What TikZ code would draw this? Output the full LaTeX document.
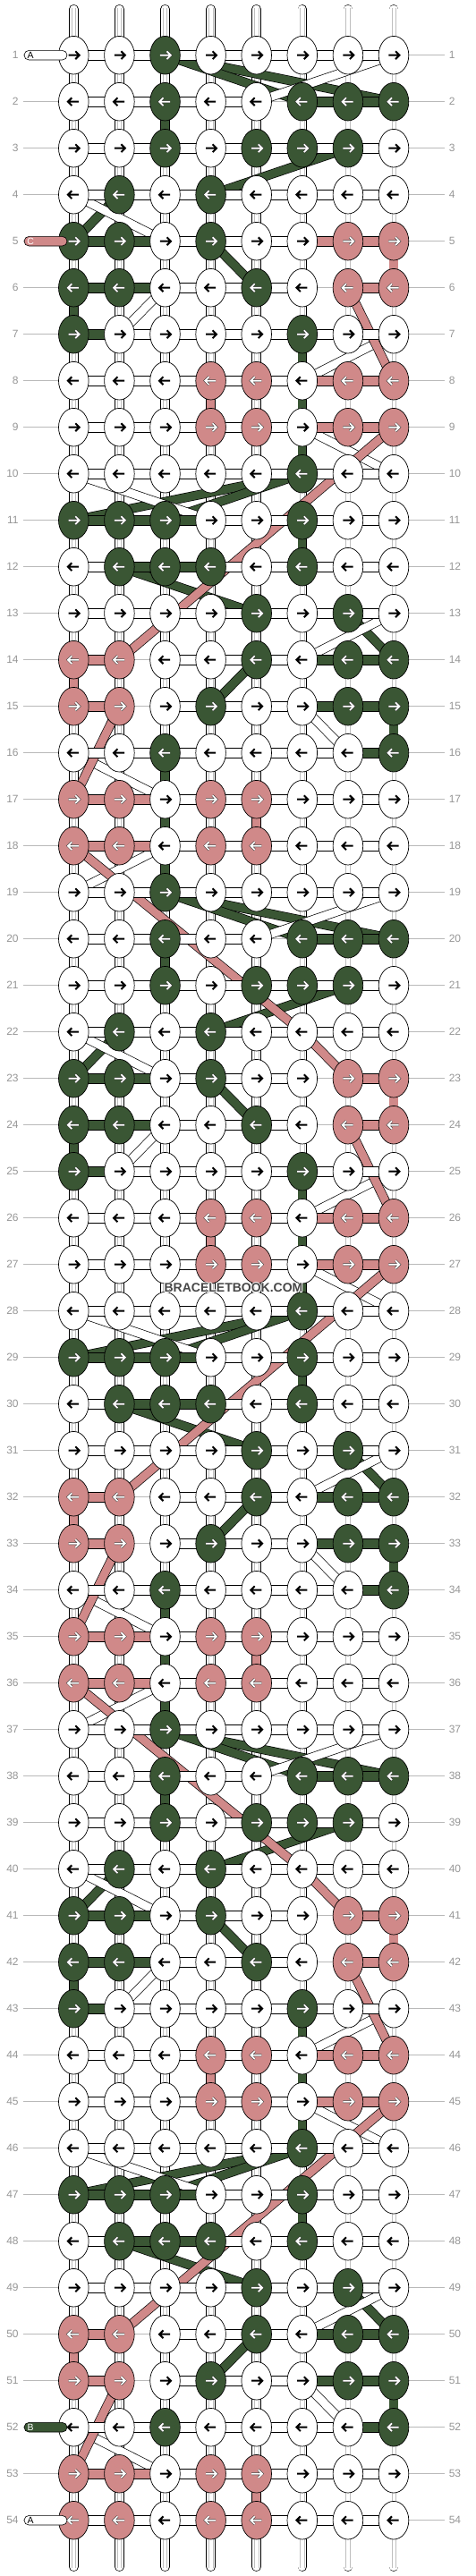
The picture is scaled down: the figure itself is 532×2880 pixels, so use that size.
\documentclass[tikz,border=0pt]{standalone}
\usepackage{fontspec}
\setmainfont{Liberation Sans}
\definecolor{cG}{RGB}{58,86,52}
\definecolor{cP}{RGB}{208,137,137}
\definecolor{guide}{RGB}{185,185,185}
\definecolor{labgray}{RGB}{150,150,150}
\definecolor{innergray}{RGB}{190,190,190}
\tikzset{
  kW/.style={fill=white}, kG/.style={fill=cG}, kP/.style={fill=cP},
  aW/.style={draw=black, line width=2pt},
  aG/.style={draw=white, line width=1.7pt, preaction={draw=black!80, line width=2.7pt}},
  aP/.style={aG},
  hw/.style={fill=white}, hg/.style={fill=cG}, hp/.style={fill=cP}, hn/.style={draw=none,fill=none},
  lab/.style={text=labgray, inner sep=0pt, font=\fontsize{12}{12}\selectfont},
  baseinner/.style={innergray, line width=0.6pt},
  wm/.style={font=\bfseries\fontsize{14}{14}\selectfont, inner sep=0pt},
}
\def\KN{%
1/{W,W,G,W,W,W,W,W}/{w,w,w,w,w,w,w},
2/{W,W,G,W,W,G,G,G}/{w,w,w,w,n,g,g},
3/{W,W,G,W,G,G,G,W}/{w,w,w,w,w,w,w},
4/{W,G,W,G,W,W,W,W}/{w,w,w,w,w,w,w},
5/{G,G,W,G,W,W,P,P}/{g,g,w,w,w,n,p},
6/{G,G,W,W,G,W,P,P}/{g,g,w,w,w,n,p},
7/{G,W,W,W,W,G,W,W}/{g,w,w,w,w,w,w},
8/{W,W,W,P,P,W,P,P}/{w,w,w,w,w,p,p},
9/{W,W,W,P,P,W,P,P}/{w,w,w,w,w,p,p},
10/{W,W,W,W,W,G,W,W}/{w,w,w,w,w,w,w},
11/{G,G,G,W,W,G,W,W}/{g,g,g,w,w,w,w},
12/{W,G,G,G,W,G,W,W}/{w,g,g,w,w,w,w},
13/{W,W,W,W,G,W,G,W}/{w,w,w,w,w,w,w},
14/{P,P,W,W,G,W,G,G}/{p,n,w,w,w,g,g},
15/{P,P,W,G,W,W,G,G}/{p,n,w,w,w,g,g},
16/{W,W,G,W,W,W,W,G}/{w,w,w,w,w,w,g},
17/{P,P,W,P,P,W,W,W}/{p,p,w,w,w,w,w},
18/{P,P,W,P,P,W,W,W}/{p,p,w,w,w,w,w}}
\def\DG{1/3/2/8, 1/3/2/6, 3/7/4/4, 4/2/5/1, 5/4/6/5, 10/6/11/1, 10/6/11/3, 12/2/13/5, 13/7/14/8, 14/5/15/4}
\def\DW{1/8/2/5, 4/1/5/3, 6/3/7/2, 7/8/8/6, 9/6/10/8, 10/1/11/4, 13/8/14/6, 15/6/16/7, 16/1/17/3}
\def\DP{6/7/8/8, 9/8/14/2, 15/2/17/1}
\newcommand\bbBand[5]{%
  \draw[line width=10.4pt, black] ({82.3+51.1*(#2-1)},{61.7+52*(#1-1)}) -- ({82.3+51.1*(#4-1)},{61.7+52*(#3-1)});
  \draw[line width=9pt, #5] ({82.3+51.1*(#2-1)},{61.7+52*(#1-1)}) -- ({82.3+51.1*(#4-1)},{61.7+52*(#3-1)});
}
\newcommand\bbVert[3]{% row, col, color
  \draw[line width=10.6pt, black] ({82.3+51.1*(#2-1)},{61.7+52*(#1-1)+15}) -- ({82.3+51.1*(#2-1)},{61.7+52*#1-15});
  \draw[line width=9.2pt, #3] ({82.3+51.1*(#2-1)},{61.7+52*(#1-1)+15}) -- ({82.3+51.1*(#2-1)},{61.7+52*#1-15});
}
\newcommand\bbConn[3]{% row, gap, style
  \draw[line width=0.6pt, #3] ({82.3+51.1*(#2-1)+12},{61.7+52*(#1-1)-5.3}) rectangle ({82.3+51.1*#2-12},{61.7+52*(#1-1)+5.3});
}
\newcommand\bbTube[4]{% row, fill, textcolor, letter
  \draw[fill=#2, line width=0.6pt, rounded corners=5.3pt] (27,{61.7+52*(#1-1)-5.3}) rectangle (75,{61.7+52*(#1-1)+5.3});
  \node[text=#3, font=\fontsize{10.5}{10.5}\selectfont, inner sep=0pt] (T#1) at (34.2,{61.7+52*(#1-1)}) {#4};
}
\begin{document}
\begin{tikzpicture}[x=1pt,y=-1pt]
\useasboundingbox (0,0) rectangle (532,2880);
\fill[white] (0,0) rectangle (532,2880);
% guide lines and row labels
\foreach \r in {1,...,54} {
  \pgfmathsetmacro\Y{61.7+52*(\r-1)}
  \draw[guide, line width=0.8pt] (26,\Y) -- (497,\Y);
  \node[lab, anchor=east] (LL\r) at (20.8,\Y) {\r};
  \node[lab, anchor=west] (LR\r) at (501.6,\Y) {\r};
}
% base strings: stubs and vertical pieces
\foreach \cc in {1,...,8} {
  \pgfmathsetmacro\X{82.3+51.1*(\cc-1)}
  \draw[line width=10.6pt, line cap=round] (\X,10.3) -- (\X,45);
  \draw[white, line width=9.2pt, line cap=round] (\X,10.3) -- (\X,45);
  \draw[baseinner] ({\X-2.2},8.5) -- ({\X-2.2},45) ({\X+2.2},8.5) -- ({\X+2.2},45);
  \draw[line width=10.6pt, line cap=round] (\X,2834) -- (\X,2869.6);
  \draw[white, line width=9.2pt, line cap=round] (\X,2834) -- (\X,2869.6);
  \draw[baseinner] ({\X-2.2},2834) -- ({\X-2.2},2871) ({\X+2.2},2834) -- ({\X+2.2},2871);
  \foreach \r in {1,...,53} {
    \pgfmathsetmacro\Ya{61.7+52*(\r-1)+15}
    \pgfmathsetmacro\Yb{61.7+52*\r-15}
    \draw[line width=10.6pt] (\X,\Ya) -- (\X,\Yb);
    \draw[white, line width=9.2pt] (\X,\Ya) -- (\X,\Yb);
    \draw[baseinner] ({\X-2.2},\Ya) -- ({\X-2.2},\Yb) ({\X+2.2},\Ya) -- ({\X+2.2},\Yb);
  }
}
% diagonal floats: green, then white, then pink
\foreach \k in {0,1,2} {
  \foreach \ra/\ca/\rb/\cb in \DG {
    \pgfmathtruncatemacro\Ra{\ra+18*\k}\pgfmathtruncatemacro\Rb{\rb+18*\k}
    \bbBand{\Ra}{\ca}{\Rb}{\cb}{cG}
  }
}
\foreach \k in {0,1,2} {
  \foreach \ra/\ca/\rb/\cb in \DW {
    \pgfmathtruncatemacro\Ra{\ra+18*\k}\pgfmathtruncatemacro\Rb{\rb+18*\k}
    \bbBand{\Ra}{\ca}{\Rb}{\cb}{white}
  }
}
\bbBand{18}{3}{19}{1}{white}
\bbBand{36}{3}{37}{1}{white}
\foreach \k in {0,1,2} {
  \foreach \ra/\ca/\rb/\cb in \DP {
    \pgfmathtruncatemacro\Ra{\ra+18*\k}\pgfmathtruncatemacro\Rb{\rb+18*\k}
    \bbBand{\Ra}{\ca}{\Rb}{\cb}{cP}
  }
}
\bbBand{18}{1}{22}{6}{cP}
\bbBand{36}{1}{40}{6}{cP}
\bbBand{22}{6}{23}{7}{cP}
\bbBand{40}{6}{41}{7}{cP}
% coloured vertical pieces
\foreach \k in {0,1,2} {
  \foreach \pp/\cc in {2/3,6/1,7/6,8/6,9/6,11/6,15/8,16/3,17/3,18/3} {
    \pgfmathtruncatemacro\r{\pp+18*\k}
    \ifnum\r<52 \bbVert{\r}{\cc}{cG}\fi
  }
  \foreach \pp/\cc in {5/8,8/4,14/1,17/5} {
    \pgfmathtruncatemacro\r{\pp+18*\k}
    \bbVert{\r}{\cc}{cP}
  }
}
% horizontal connectors
\foreach \k in {0,1,2} {
  \foreach \p/\ks/\cs in \KN {
    \pgfmathtruncatemacro\r{\p+18*\k}
    \foreach \cn [count=\gi] in \cs {
      \bbConn{\r}{\gi}{h\cn}
    }
  }
}
\bbConn{5}{6}{hp}
\bbConn{54}{1}{hw}
\bbConn{54}{2}{hw}
% knots
\foreach \k in {0,1,2} {
  \foreach \p/\ks/\cs in \KN {
    \pgfmathtruncatemacro\r{\p+18*\k}
    \pgfmathsetmacro\Y{61.7+52*(\r-1)}
    \foreach \col [count=\ci] in \ks {
      \pgfmathsetmacro\X{82.3+51.1*(\ci-1)}
      \draw[k\col, line width=0.7pt] (\X,\Y) ellipse [x radius=16.8, y radius=21.3];
      \ifodd\r
        \draw[a\col] ({\X-5.6},\Y) -- ({\X+6},\Y) ({\X+2},{\Y-4.4}) -- ({\X+6.4},\Y) -- ({\X+2},{\Y+4.4});
      \else
        \draw[a\col] ({\X+5.6},\Y) -- ({\X-6},\Y) ({\X-2},{\Y-4.4}) -- ({\X-6.4},\Y) -- ({\X-2},{\Y+4.4});
      \fi
    }
  }
}
% thread start tubes
\bbTube{1}{white}{black}{A}
\bbTube{5}{cP}{white}{C}
\bbTube{52}{cG}{white}{B}
\bbTube{54}{white}{black}{A}
% watermark
\foreach \dx/\dy in {-0.9/0,0.9/0,0/-0.9,0/0.9,-0.7/-0.7,0.7/0.7,-0.7/0.7,0.7/-0.7} {
  \node[wm, text=white] at ({261+\dx},{1440+\dy}) {BRACELETBOOK.COM};
}
\node[wm, text=black!72] (wmark) at (261,1440) {BRACELETBOOK.COM};
\end{tikzpicture}
\end{document}
